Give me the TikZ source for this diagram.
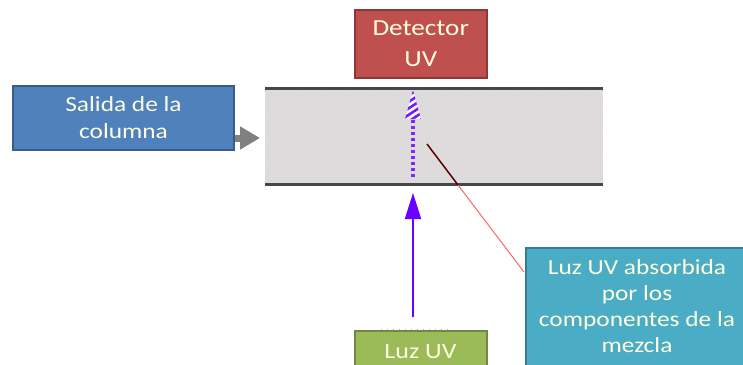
\documentclass[tikz,border=0pt]{standalone}
\usepackage{fontspec}
\setmainfont[FakeStretch=1.18]{Carlito}
\usetikzlibrary{arrows.meta}
\definecolor{redF}{HTML}{C0504D}\definecolor{redD}{HTML}{8C3836}
\definecolor{bluF}{HTML}{4F81BD}\definecolor{bluD}{HTML}{385D8A}
\definecolor{teaF}{HTML}{4BACC6}\definecolor{teaD}{HTML}{357D91}
\definecolor{greF}{HTML}{9BBB59}\definecolor{greD}{HTML}{71893F}
\definecolor{uvv}{HTML}{6A00FF}\definecolor{cellg}{HTML}{DDDBDB}\definecolor{dotp}{HTML}{E8CFCF}
\tikzset{x=1pt,y=-1pt,
 boxn/.style={draw,line width=2pt,text=white!88!yellow,align=center,inner sep=0pt,anchor=north west},
 wall/.style={line width=3pt,draw=black!72},
 uv/.style={-{Triangle[length=26pt,width=16pt]},line width=2pt,draw=uvv}}
\begin{document}
\begin{tikzpicture}
\useasboundingbox (0,0) rectangle (743,364);
\fill[cellg] (265,88) rectangle (603,185);
\foreach \i in {0,...,27}{\foreach \j in {0,...,7}{
  \fill[dotp] ({271+\i*12+mod(\j,2)*6},{94+\j*12}) circle (.8pt);}}
\coordinate (wa) at (265,88.5);\coordinate (wb) at (603,88.5);
\coordinate (wc) at (265,184.5);\coordinate (wd) at (603,184.5);
\draw[wall] (wa)--(wb); \draw[wall] (wc)--(wd);
\node[boxn,fill=redF,draw=redD,minimum width=132.5pt,minimum height=68.5pt,font=\fontsize{23}{31}\selectfont] (det) at (353.5,8.5) {Detector\\UV};
\node[boxn,fill=bluF,draw=bluD,minimum width=221pt,minimum height=64pt,font=\fontsize{21.5}{27}\selectfont] (sal) at (12,85) {Salida de la\\columna};
\node[boxn,fill=greF,draw=greD,minimum width=132pt,minimum height=42pt,font=\fontsize{22}{26}\selectfont] (luz) at (353.5,330) {Luz UV};
\node[boxn,fill=teaF,draw=teaD,minimum width=222pt,minimum height=118pt,font=\fontsize{21.5}{26}\selectfont] (abs) at (525,246.5) {Luz UV absorbida\\por los\\componentes de la\\mezcla};
% entry arrow
\coordinate (in) at (260,138);
\draw[-{Triangle[length=20pt,width=22pt]},line width=7pt,draw=black!50] (sal.east |- in) -- (in);
% absorbed beam (dashed/hatched)
\coordinate (bs) at (413,177);\coordinate (bm) at (413,119);\coordinate (bt) at (413,90);
\draw[line width=3.5pt,draw=uvv!85!white,dash pattern=on 3pt off 3pt] (bs)--(bm);
\begin{scope}
\clip (405,119)--(bt)--(421,119)--cycle;
\fill[white] (400,85) rectangle (426,125);
\foreach \k in {-1,0,...,6}{\draw[line width=2.6pt,uvv!90!white] (400,{127-\k*6.5})--(426,{110-\k*6.5});}
\end{scope}
% incoming beam
\coordinate (us) at (413,317);\coordinate (ut) at (413,193);
\draw[uv] (us)--(ut);
% faint marks above the lamp box
\draw[uvv!35!white,line width=.7pt,dash pattern=on 1pt off 5pt] (381,329)--(448,329);
% callout line
\coordinate (ca) at (427,144);\coordinate (cb) at (458,185);\coordinate (cc) at (524,272);
\draw[line width=1.5pt,draw=black!65!red] (ca)--(cb);
\draw[line width=1pt,draw=red!60!white] (cb)--(cc);
\end{tikzpicture}
\end{document}
